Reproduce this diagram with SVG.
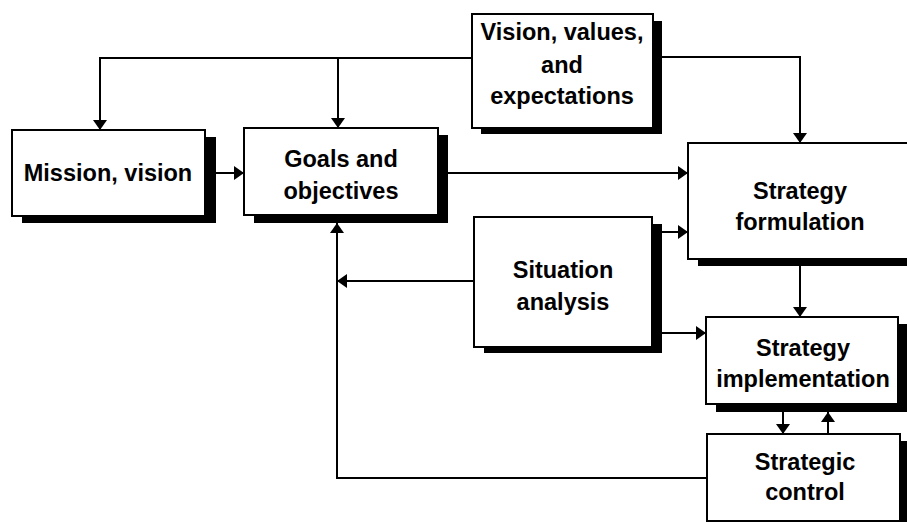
<svg xmlns="http://www.w3.org/2000/svg" width="907" height="522" viewBox="0 0 907 522">
  <style>
    .box { fill: #ffffff; stroke: #000000; stroke-width: 2; }
    .shadow { fill: #000000; stroke: none; }
    .lbl { font-family: "Liberation Sans", Arial, sans-serif; font-weight: bold; font-size: 23.5px; fill: #000000; text-anchor: middle; }
    .conn { fill: none; stroke: #000000; stroke-width: 2; }
  </style>
  <defs>
    <marker id="arrow" markerUnits="userSpaceOnUse" markerWidth="10" markerHeight="14" refX="10" refY="7" orient="auto">
      <path d="M0,0 L10,7 L0,14 z" fill="#000000"/>
    </marker>
  </defs>
  <rect width="907" height="522" fill="#ffffff"/>

  <g id="mission">
    <rect class="shadow" x="22" y="137" width="194" height="86"/>
    <rect class="box" x="12" y="130" width="193" height="86"/>
    <text class="lbl" x="108" y="181">Mission, vision</text>
  </g>
  <g id="goals">
    <rect class="shadow" x="254" y="135" width="194" height="88"/>
    <rect class="box" x="244" y="128" width="194" height="87"/>
    <text class="lbl" x="341" y="167">Goals and</text>
    <text class="lbl" x="341" y="199">objectives</text>
  </g>
  <g id="vision">
    <rect class="shadow" x="481" y="21" width="181" height="113"/>
    <rect class="box" x="472" y="14" width="181" height="114"/>
    <text class="lbl" x="562" y="40">Vision, values,</text>
    <text class="lbl" x="562" y="73">and</text>
    <text class="lbl" x="562" y="104">expectations</text>
  </g>
  <g id="formulation">
    <rect class="shadow" x="698" y="150" width="240" height="116"/>
    <rect class="box" x="688" y="143" width="240" height="116"/>
    <text class="lbl" x="800" y="199">Strategy</text>
    <text class="lbl" x="800" y="230">formulation</text>
  </g>
  <g id="situation">
    <rect class="shadow" x="484" y="224" width="178" height="129"/>
    <rect class="box" x="474" y="217" width="178" height="130"/>
    <text class="lbl" x="563" y="278">Situation</text>
    <text class="lbl" x="563" y="310">analysis</text>
  </g>
  <g id="implementation">
    <rect class="shadow" x="716" y="324" width="200" height="88"/>
    <rect class="box" x="706" y="317" width="192" height="87"/>
    <text class="lbl" x="803" y="356">Strategy</text>
    <text class="lbl" x="803" y="387">implementation</text>
  </g>
  <g id="control">
    <rect class="shadow" x="717" y="441" width="200" height="90"/>
    <rect class="box" x="707" y="434" width="193" height="87"/>
    <text class="lbl" x="805" y="470">Strategic</text>
    <text class="lbl" x="805" y="500">control</text>
  </g>

  <g id="connectors">
    <path class="conn" d="M472,58 H100 V130" marker-end="url(#arrow)"/>
    <path class="conn" d="M338,58 V128" marker-end="url(#arrow)"/>
    <path class="conn" d="M653,57 H800 V143" marker-end="url(#arrow)"/>
    <path class="conn" d="M216,173 H244" marker-end="url(#arrow)"/>
    <path class="conn" d="M448,173 H688" marker-end="url(#arrow)"/>
    <path class="conn" d="M662,232 H688" marker-end="url(#arrow)"/>
    <path class="conn" d="M474,281 H337" marker-end="url(#arrow)"/>
    <path class="conn" d="M707,478 H337 V223" marker-end="url(#arrow)"/>
    <path class="conn" d="M662,333 H706" marker-end="url(#arrow)"/>
    <path class="conn" d="M800,266 V317" marker-end="url(#arrow)"/>
    <path class="conn" d="M783,412 V434" marker-end="url(#arrow)"/>
    <path class="conn" d="M828,434 V412" marker-end="url(#arrow)"/>
  </g>
</svg>
